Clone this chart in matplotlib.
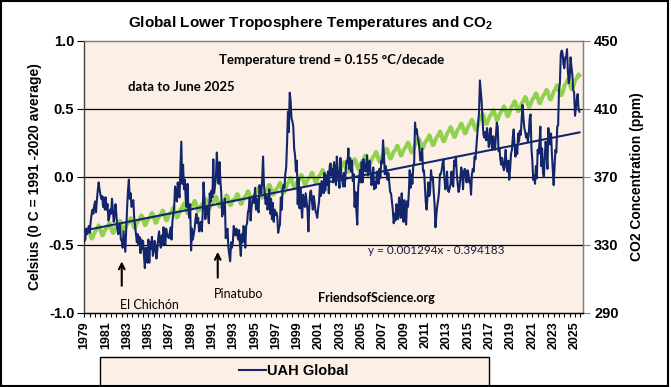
import matplotlib
matplotlib.use("Agg")
import matplotlib.pyplot as plt
from matplotlib.patches import Rectangle

plt.rcParams['font.family'] = ['Liberation Sans', 'DejaVu Sans']
plt.rcParams['mathtext.fontset'] = 'custom'
plt.rcParams['mathtext.rm'] = 'Liberation Sans'
plt.rcParams['mathtext.bf'] = 'Liberation Sans:bold'

# UAH global lower troposphere anomalies, monthly, 1991-2020 base
uah = {
    1979: [-0.47, -0.46, -0.38, -0.42, -0.40, -0.36, -0.41, -0.33, -0.28, -0.24, -0.27, -0.21],
    1980: [-0.18, -0.26, -0.17, -0.10, -0.04, -0.09, -0.13, -0.16, -0.14, -0.22, -0.15, -0.24],
    1981: [-0.15, -0.24, -0.20, -0.32, -0.30, -0.24, -0.27, -0.16, -0.25, -0.33, -0.28, -0.20],
    1982: [-0.28, -0.38, -0.42, -0.36, -0.35, -0.46, -0.47, -0.52, -0.40, -0.48, -0.55, -0.38],
    1983: [-0.23, -0.10, -0.02, -0.16, -0.12, -0.22, -0.20, -0.17, -0.30, -0.36, -0.42, -0.48],
    1984: [-0.42, -0.50, -0.44, -0.56, -0.46, -0.53, -0.47, -0.58, -0.67, -0.52, -0.60, -0.63],
    1985: [-0.46, -0.63, -0.48, -0.53, -0.44, -0.58, -0.55, -0.47, -0.50, -0.60, -0.54, -0.45],
    1986: [-0.40, -0.48, -0.52, -0.43, -0.50, -0.37, -0.46, -0.50, -0.38, -0.42, -0.44, -0.45],
    1987: [-0.41, -0.37, -0.46, -0.33, -0.27, -0.22, -0.07, -0.13, -0.18, -0.04, -0.11, -0.15],
    1988: [0.05, 0.26, -0.05, 0.09, -0.09, -0.02, -0.17, -0.22, -0.05, -0.24, -0.30, -0.20],
    1989: [-0.54, -0.38, -0.46, -0.42, -0.38, -0.31, -0.27, -0.34, -0.30, -0.40, -0.36, -0.33],
    1990: [-0.40, -0.28, -0.04, -0.16, -0.31, -0.25, -0.22, -0.27, -0.34, -0.12, -0.18, -0.10],
    1991: [-0.15, 0.13, -0.12, -0.06, 0.00, 0.18, 0.02, -0.05, 0.11, -0.03, -0.12, -0.29],
    1992: [-0.19, -0.27, -0.16, -0.45, -0.40, -0.38, -0.52, -0.57, -0.62, -0.48, -0.52, -0.48],
    1993: [-0.36, -0.40, -0.43, -0.38, -0.42, -0.46, -0.39, -0.50, -0.58, -0.42, -0.48, -0.36],
    1994: [-0.39, -0.52, -0.36, -0.34, -0.26, -0.23, -0.15, -0.32, -0.22, -0.18, -0.14, -0.19],
    1995: [-0.08, -0.24, -0.16, -0.24, -0.26, -0.06, -0.10, -0.12, -0.02, 0.15, -0.06, -0.14],
    1996: [-0.20, -0.14, -0.24, -0.20, -0.09, -0.27, -0.16, -0.31, -0.19, -0.33, -0.24, -0.28],
    1997: [-0.26, -0.29, -0.41, -0.37, -0.35, -0.15, -0.24, -0.09, -0.06, -0.08, 0.02, 0.07],
    1998: [0.25, 0.48, 0.33, 0.62, 0.56, 0.43, 0.41, 0.37, 0.21, 0.16, 0.04, 0.12],
    1999: [-0.20, -0.01, -0.23, -0.08, -0.21, -0.30, -0.13, -0.17, -0.22, -0.12, -0.18, -0.24],
    2000: [-0.40, -0.22, -0.11, -0.10, -0.18, -0.24, -0.14, -0.19, -0.25, -0.27, -0.30, -0.23],
    2001: [-0.18, -0.05, -0.14, -0.03, -0.06, -0.12, 0.03, -0.10, 0.01, -0.06, 0.04, -0.12],
    2002: [0.08, 0.10, 0.01, 0.06, -0.04, 0.11, 0.02, -0.06, 0.15, 0.05, -0.02, -0.08],
    2003: [0.14, 0.03, -0.02, -0.07, 0.03, -0.07, 0.05, 0.12, 0.10, 0.21, 0.06, 0.14],
    2004: [0.04, 0.12, -0.03, 0.02, -0.22, -0.11, -0.25, -0.35, -0.08, -0.02, 0.05, -0.04],
    2005: [0.11, -0.04, 0.13, 0.10, 0.04, 0.05, 0.16, 0.01, 0.08, 0.12, 0.03, -0.06],
    2006: [-0.02, 0.07, -0.09, -0.04, -0.08, 0.04, 0.03, -0.05, 0.06, -0.01, 0.12, 0.10],
    2007: [0.27, 0.17, 0.02, 0.08, 0.04, -0.02, 0.03, -0.04, -0.11, -0.12, -0.18, -0.24],
    2008: [-0.34, -0.27, -0.32, -0.20, -0.29, -0.31, -0.15, -0.22, -0.30, -0.12, -0.25, -0.33],
    2009: [-0.17, -0.29, -0.35, -0.18, -0.22, -0.12, 0.05, -0.08, 0.02, -0.05, 0.08, 0.10],
    2010: [0.40, 0.32, 0.35, 0.29, 0.26, 0.20, 0.12, 0.13, 0.21, 0.04, 0.05, -0.05],
    2011: [-0.18, -0.24, -0.15, -0.04, -0.14, -0.10, 0.05, -0.02, 0.00, -0.11, -0.20, -0.37],
    2012: [-0.28, -0.21, -0.17, -0.11, 0.02, 0.02, 0.05, 0.10, 0.13, 0.00, -0.09, -0.05],
    2013: [0.04, -0.10, -0.11, -0.08, -0.05, 0.04, -0.05, -0.07, 0.12, 0.08, 0.15, 0.02],
    2014: [-0.05, -0.11, -0.08, 0.00, 0.07, 0.03, -0.09, 0.04, 0.06, 0.02, -0.04, 0.05],
    2015: [0.03, -0.04, -0.02, -0.13, 0.02, 0.06, 0.04, 0.15, 0.13, 0.22, 0.31, 0.40],
    2016: [0.47, 0.71, 0.63, 0.55, 0.42, 0.31, 0.29, 0.33, 0.27, 0.36, 0.31, 0.22],
    2017: [0.28, 0.36, 0.24, 0.20, 0.30, 0.22, 0.20, 0.30, 0.40, 0.37, 0.19, 0.21],
    2018: [0.13, 0.09, 0.14, 0.08, 0.05, 0.12, 0.20, 0.07, 0.04, 0.12, -0.02, 0.06],
    2019: [0.17, 0.20, 0.29, 0.35, 0.23, 0.15, 0.23, 0.17, 0.32, 0.26, 0.34, 0.31],
    2020: [0.43, 0.53, 0.43, 0.36, 0.33, 0.29, 0.32, 0.26, 0.32, 0.43, 0.46, 0.21],
    2021: [0.12, -0.02, 0.01, -0.05, 0.08, -0.01, 0.20, 0.17, 0.25, 0.37, 0.08, 0.21],
    2022: [0.03, 0.00, 0.15, 0.26, 0.17, 0.06, 0.36, 0.28, 0.24, 0.32, 0.17, 0.05],
    2023: [-0.06, 0.08, 0.20, 0.18, 0.37, 0.38, 0.64, 0.69, 0.90, 0.93, 0.91, 0.83],
    2024: [0.80, 0.88, 0.88, 0.94, 0.78, 0.69, 0.73, 0.88, 0.81, 0.75, 0.64, 0.62],
    2025: [0.45, 0.50, 0.57, 0.61, 0.50, 0.48],
}

# Mauna Loa CO2: annual means and the monthly seasonal departures
co2_annual = [336.8, 338.7, 340.1, 341.4, 343.0, 344.6, 346.0, 347.4, 349.2, 351.6,
              353.1, 354.4, 355.6, 356.4, 357.1, 358.8, 360.8, 362.6, 363.7, 366.7,
              368.4, 369.7, 371.3, 373.5, 375.9, 377.7, 379.8, 381.9, 383.8, 385.6,
              387.4, 389.9, 391.7, 393.9, 396.5, 398.6, 400.8, 404.2, 406.5, 408.7,
              411.7, 414.2, 416.4, 418.5, 421.1, 424.6, 427.5]
co2_season = [-0.8, -0.1, 0.4, 1.9, 2.9, 2.2, 0.3, -1.7, -3.0, -2.8, -1.3, 0.0]

trend_slope = 0.001294
trend_icept = -0.394183

temps = [v for yr in sorted(uah) for v in uah[yr]]
n = len(temps)
x = [1979 + i / 12 for i in range(n)]
co2 = [co2_annual[i // 12] + co2_season[i % 12] for i in range(n)]
trend = [trend_slope * (i + 1) + trend_icept for i in range(n)]

navy = '#13266b'
green = '#92d050'
peach = '#fcefe6'

fig = plt.figure(figsize=(6.71, 3.87), dpi=100)
ax = fig.add_axes([84 / 671, 1 - 313 / 387, (583 - 84) / 671, (313 - 41) / 387])
ax.set_facecolor(peach)
ax2 = ax.twinx()

for yv in [0.5, 0.0, -0.5]:
    ax.axhline(yv, color='black', lw=0.9, zorder=1)

ax2.plot(x, co2, color=green, lw=2.8, zorder=2)
ax.plot(x, temps, color=navy, lw=1.5, zorder=3, label='UAH Global')
ax.plot(x, trend, color=navy, lw=1.5, zorder=4)

# temperature axes on top, CO2 axes carries the background
ax.set_zorder(1)
ax2.set_zorder(0)
ax.patch.set_visible(False)
ax2.patch.set_visible(True)
ax2.patch.set_facecolor(peach)

ax.set_xlim(1978.96, 2025.75)
ax.set_ylim(-1.0, 1.0)
ax2.set_ylim(290, 450)

ax.set_yticks([-1.0, -0.5, 0.0, 0.5, 1.0])
ax.set_yticklabels(['-1.0', '-0.5', '0.0', '0.5', '1.0'], fontsize=10.5, fontweight='bold')
ax2.set_yticks([290, 330, 370, 410, 450])
ax2.set_yticklabels(['290', '330', '370', '410', '450'], fontsize=10.5, fontweight='bold')

years = list(range(1979, 2026, 2))
ax.set_xticks(years)
ax.set_xticklabels([str(y) for y in years], rotation=90, fontsize=9, fontweight='bold')
ax.set_xticks([1979 + 0.5 * k for k in range(94)], minor=True)
ax.tick_params(axis='x', which='both', length=3, width=0.8, direction='out', pad=3)
ax.tick_params(axis='y', length=5, width=0.8, pad=2, colors='black')
ax2.tick_params(axis='y', length=5, width=0.8, pad=3, color='#808080', labelcolor='black')

for a in (ax, ax2):
    for s in a.spines.values():
        s.set_color('#808080')
        s.set_linewidth(0.9)
    a.spines['bottom'].set_color('black')
ax.spines['left'].set_color('#404040')

ax.set_ylabel('Celsius (0 C = 1991 -2020 average)', fontsize=10, fontweight='bold', labelpad=5)
ax2.set_ylabel('CO2 Concentration (ppm)', fontsize=10, fontweight='bold', labelpad=8)

fig.text(311 / 671, 1 - 23 / 387, 'Global Lower Troposphere Temperatures and CO$_\\mathbf{2}$',
         ha='center', va='center', fontsize=11, fontweight='bold')

cal = ['Lato', 'DejaVu Sans']
ax.text(1991.6, 0.86, 'Temperature trend = 0.155 \u00b0C/decade', family=cal,
        fontsize=9.5, fontweight='bold', va='center', ha='left')
ax.text(1983.1, 0.66, 'data to June 2025', family=cal, fontsize=9.5,
        fontweight='bold', va='center', ha='left')
ax.text(2005.6, -0.54, 'y = 0.001294x - 0.394183', family=cal, fontsize=8.5,
        color='#1a1a40', va='center', ha='left')
ax.text(1982.3, -0.94, 'El Chich\u00f3n', family=cal, fontsize=9, va='center', ha='left')
ax.text(1991.1, -0.86, 'Pinatubo', family=cal, fontsize=9, va='center', ha='left')
ax.text(2000.9, -0.89, 'FriendsofScience.org', family=cal, fontsize=9,
        fontweight='bold', va='center', ha='left')

ax.annotate('', xy=(1982.5, -0.60), xytext=(1982.5, -0.82),
            arrowprops=dict(arrowstyle='->', color='black', lw=1.5))
ax.annotate('', xy=(1991.5, -0.53), xytext=(1991.5, -0.76),
            arrowprops=dict(arrowstyle='->', color='black', lw=1.5))

# legend box at the bottom
fig.patches.append(Rectangle((100 / 671, 1 / 387), (489 - 100) / 671, (386 - 357) / 387,
                             transform=fig.transFigure, facecolor=peach,
                             edgecolor='black', lw=1.0, zorder=0))
fig.legend(loc='center', bbox_to_anchor=(294 / 671, 1 - 371 / 387), frameon=False,
           prop={'weight': 'bold', 'size': 10.5}, handlelength=1.8, handletextpad=0.1)

# outer frame of the picture
fig.patches.append(Rectangle((0.5 / 671, 1.5 / 387), 667 / 671, 385 / 387,
                             transform=fig.transFigure, fill=False,
                             edgecolor='black', lw=1.5, zorder=5))

fig.savefig('out.png', dpi=100)
